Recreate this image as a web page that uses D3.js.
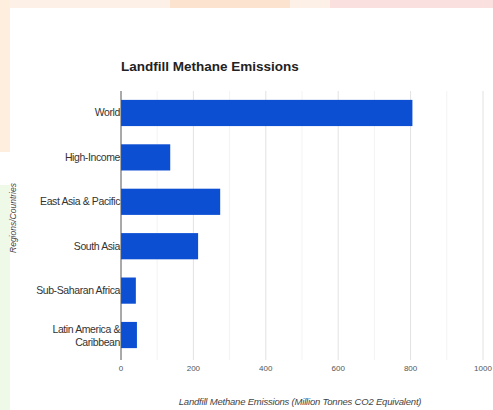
<!DOCTYPE html>
<html>
<head>
<meta charset="utf-8">
<script src="https://cdn.jsdelivr.net/npm/d3@7"></script>
<style>
  body { margin: 0; background: #fff; }
  text { font-family: "Liberation Sans", Arial, sans-serif; }
</style>
</head>
<body>
<div id="chart"></div>
<script>
// data
const regions = ['World', 'High-Income', 'East Asia & Pacific', 'South Asia', 'Sub-Saharan Africa', 'Latin America & Caribbean'];
const emissions = [805, 136, 274, 213, 41, 44];
const xTicks = [0, 200, 400, 600, 800, 1000];

const W = 493, H = 410;
const margin = { top: 91, right: 10, bottom: 52, left: 121 };

const svg = d3.select('#chart').append('svg')
  .attr('width', W)
  .attr('height', H);

// faded background strips at the edges
svg.append('rect').attr('x', 0).attr('y', 0).attr('width', W).attr('height', 8).attr('fill', '#fdf0e6');
svg.append('rect').attr('x', 170).attr('y', 0).attr('width', 120).attr('height', 8).attr('fill', '#fbe3cf');
svg.append('rect').attr('x', 330).attr('y', 0).attr('width', 163).attr('height', 8).attr('fill', '#fbe0e0');
svg.append('rect').attr('x', 0).attr('y', 0).attr('width', 10).attr('height', 152).attr('fill', '#fdeedd');
svg.append('rect').attr('x', 0).attr('y', 185).attr('width', 10).attr('height', 225).attr('fill', '#eff9e8');

const x = d3.scaleLinear().domain([0, 1000]).range([margin.left, 483]);
const y = d3.scaleBand().domain(regions)
  .range([margin.top, H - margin.bottom - 1])
  .paddingInner(0.41).paddingOuter(0.2);

// gridlines, minor every 100, major every 200
const minor = d3.range(100, 1001, 200);
svg.append('g').selectAll('line').data(minor).join('line')
  .attr('x1', d => x(d)).attr('x2', d => x(d))
  .attr('y1', margin.top).attr('y2', 360)
  .attr('stroke', '#f3f3f3');
svg.append('g').selectAll('line').data(xTicks.slice(1)).join('line')
  .attr('x1', d => x(d)).attr('x2', d => x(d))
  .attr('y1', margin.top).attr('y2', 360)
  .attr('stroke', '#e2e2e2');

// bars
svg.append('g').selectAll('rect').data(regions).join('rect')
  .attr('x', x(0))
  .attr('y', d => y(d))
  .attr('width', (d, i) => x(emissions[i]) - x(0))
  .attr('height', y.bandwidth())
  .attr('fill', '#0d4fd3');

// axis line
svg.append('line')
  .attr('x1', x(0)).attr('x2', x(0))
  .attr('y1', margin.top).attr('y2', 360)
  .attr('stroke', '#555');

// x tick labels
svg.append('g').selectAll('text').data(xTicks).join('text')
  .attr('x', d => x(d))
  .attr('y', 371)
  .attr('text-anchor', 'middle')
  .attr('font-size', 8)
  .attr('fill', '#555')
  .text(d => d);

// y labels
const yl = svg.append('g').selectAll('text').data(regions).join('text')
  .attr('x', x(0) - 1)
  .attr('y', d => y(d) + y.bandwidth() / 2 + 3.5)
  .attr('text-anchor', 'end')
  .attr('font-size', 10.5)
  .attr('fill', '#333')
  .attr('letter-spacing', -0.4);
yl.each(function(d) {
  const t = d3.select(this);
  if (d === 'Latin America & Caribbean') {
    t.attr('y', y(d) + y.bandwidth() / 2 - 2);
    t.append('tspan').attr('x', x(0) - 1).text('Latin America &');
    t.append('tspan').attr('x', x(0) - 1).attr('dy', 13).text('Caribbean');
  } else {
    t.text(d);
  }
});

// title
svg.append('text')
  .attr('x', 121).attr('y', 71)
  .attr('font-size', 13.5)
  .attr('font-weight', 'bold')
  .attr('fill', '#222')
  .text('Landfill Methane Emissions');

// axis titles
svg.append('text')
  .attr('x', 300).attr('y', 405)
  .attr('text-anchor', 'middle')
  .attr('font-size', 9.5)
  .attr('font-style', 'italic')
  .attr('fill', '#444')
  .attr('letter-spacing', -0.2)
  .text('Landfill Methane Emissions (Million Tonnes CO2 Equivalent)');

svg.append('text')
  .attr('transform', 'translate(16,218) rotate(-90)')
  .attr('text-anchor', 'middle')
  .attr('font-size', 8.5)
  .attr('font-style', 'italic')
  .attr('fill', '#444')
  .text('Regions/Countries');
</script>
</body>
</html>
